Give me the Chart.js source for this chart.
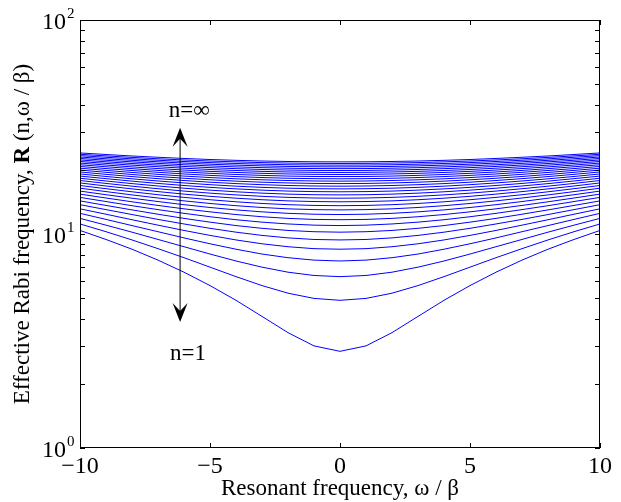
<!DOCTYPE html>
<html>
<head>
<meta charset="utf-8">
<script src="https://cdn.jsdelivr.net/npm/chart.js@4/dist/chart.umd.min.js"></script>
<style>
  html, body { margin: 0; background: #fff; }
  canvas { display: block; }
</style>
</head>
<body>
<canvas id="chart-rabi" width="621" height="502"></canvas>
<script>
// ── DATA ──────────────────────────────────────────────────────
// resonant frequency (omega / beta), same grid for every curve
const OMEGA = [-10, -9, -8, -7, -6, -5, -4, -3, -2, -1, 0, 1, 2, 3, 4, 5, 6, 7, 8, 9, 10];

// effective Rabi frequency, one row per n (n = 1 at the bottom ... n = 30 on top)
const RABI = [
  [10.39, 9.43, 8.49, 7.55, 6.63, 5.74, 4.90, 4.12, 3.46, 3.00, 2.83, 3.00, 3.46, 4.12, 4.90, 5.74, 6.63, 7.55, 8.49, 9.43, 10.39],
  [11.14, 10.25, 9.38, 8.54, 7.75, 7.00, 6.32, 5.74, 5.29, 5.00, 4.90, 5.00, 5.29, 5.74, 6.32, 7.00, 7.75, 8.54, 9.38, 10.25, 11.14],
  [11.83, 11.00, 10.20, 9.43, 8.72, 8.06, 7.48, 7.00, 6.63, 6.40, 6.32, 6.40, 6.63, 7.00, 7.48, 8.06, 8.72, 9.43, 10.20, 11.00, 11.83],
  [12.49, 11.70, 10.95, 10.25, 9.59, 9.00, 8.49, 8.06, 7.75, 7.55, 7.48, 7.55, 7.75, 8.06, 8.49, 9.00, 9.59, 10.25, 10.95, 11.70, 12.49],
  [13.11, 12.37, 11.66, 11.00, 10.39, 9.85, 9.38, 9.00, 8.72, 8.54, 8.49, 8.54, 8.72, 9.00, 9.38, 9.85, 10.39, 11.00, 11.66, 12.37, 13.11],
  [13.71, 13.00, 12.33, 11.70, 11.14, 10.63, 10.20, 9.85, 9.59, 9.43, 9.38, 9.43, 9.59, 9.85, 10.20, 10.63, 11.14, 11.70, 12.33, 13.00, 13.71],
  [14.28, 13.60, 12.96, 12.37, 11.83, 11.36, 10.95, 10.63, 10.39, 10.25, 10.20, 10.25, 10.39, 10.63, 10.95, 11.36, 11.83, 12.37, 12.96, 13.60, 14.28],
  [14.83, 14.18, 13.56, 13.00, 12.49, 12.04, 11.66, 11.36, 11.14, 11.00, 10.95, 11.00, 11.14, 11.36, 11.66, 12.04, 12.49, 13.00, 13.56, 14.18, 14.83],
  [15.36, 14.73, 14.14, 13.60, 13.11, 12.69, 12.33, 12.04, 11.83, 11.70, 11.66, 11.70, 11.83, 12.04, 12.33, 12.69, 13.11, 13.60, 14.14, 14.73, 15.36],
  [15.87, 15.26, 14.70, 14.18, 13.71, 13.30, 12.96, 12.69, 12.49, 12.37, 12.33, 12.37, 12.49, 12.69, 12.96, 13.30, 13.71, 14.18, 14.70, 15.26, 15.87],
  [16.37, 15.78, 15.23, 14.73, 14.28, 13.89, 13.56, 13.30, 13.11, 13.00, 12.96, 13.00, 13.11, 13.30, 13.56, 13.89, 14.28, 14.73, 15.23, 15.78, 16.37],
  [16.85, 16.28, 15.75, 15.26, 14.83, 14.46, 14.14, 13.89, 13.71, 13.60, 13.56, 13.60, 13.71, 13.89, 14.14, 14.46, 14.83, 15.26, 15.75, 16.28, 16.85],
  [17.32, 16.76, 16.25, 15.78, 15.36, 15.00, 14.70, 14.46, 14.28, 14.18, 14.14, 14.18, 14.28, 14.46, 14.70, 15.00, 15.36, 15.78, 16.25, 16.76, 17.32],
  [17.78, 17.23, 16.73, 16.28, 15.87, 15.52, 15.23, 15.00, 14.83, 14.73, 14.70, 14.73, 14.83, 15.00, 15.23, 15.52, 15.87, 16.28, 16.73, 17.23, 17.78],
  [18.22, 17.69, 17.20, 16.76, 16.37, 16.03, 15.75, 15.52, 15.36, 15.26, 15.23, 15.26, 15.36, 15.52, 15.75, 16.03, 16.37, 16.76, 17.20, 17.69, 18.22],
  [18.65, 18.14, 17.66, 17.23, 16.85, 16.52, 16.25, 16.03, 15.87, 15.78, 15.75, 15.78, 15.87, 16.03, 16.25, 16.52, 16.85, 17.23, 17.66, 18.14, 18.65],
  [19.08, 18.57, 18.11, 17.69, 17.32, 17.00, 16.73, 16.52, 16.37, 16.28, 16.25, 16.28, 16.37, 16.52, 16.73, 17.00, 17.32, 17.69, 18.11, 18.57, 19.08],
  [19.49, 19.00, 18.55, 18.14, 17.78, 17.46, 17.20, 17.00, 16.85, 16.76, 16.73, 16.76, 16.85, 17.00, 17.20, 17.46, 17.78, 18.14, 18.55, 19.00, 19.49],
  [19.90, 19.42, 18.97, 18.57, 18.22, 17.92, 17.66, 17.46, 17.32, 17.23, 17.20, 17.23, 17.32, 17.46, 17.66, 17.92, 18.22, 18.57, 18.97, 19.42, 19.90],
  [20.30, 19.82, 19.39, 19.00, 18.65, 18.36, 18.11, 17.92, 17.78, 17.69, 17.66, 17.69, 17.78, 17.92, 18.11, 18.36, 18.65, 19.00, 19.39, 19.82, 20.30],
  [20.69, 20.22, 19.80, 19.42, 19.08, 18.79, 18.55, 18.36, 18.22, 18.14, 18.11, 18.14, 18.22, 18.36, 18.55, 18.79, 19.08, 19.42, 19.80, 20.22, 20.69],
  [21.07, 20.62, 20.20, 19.82, 19.49, 19.21, 18.97, 18.79, 18.65, 18.57, 18.55, 18.57, 18.65, 18.79, 18.97, 19.21, 19.49, 19.82, 20.20, 20.62, 21.07],
  [21.45, 21.00, 20.59, 20.22, 19.90, 19.62, 19.39, 19.21, 19.08, 19.00, 18.97, 19.00, 19.08, 19.21, 19.39, 19.62, 19.90, 20.22, 20.59, 21.00, 21.45],
  [21.82, 21.38, 20.98, 20.62, 20.30, 20.02, 19.80, 19.62, 19.49, 19.42, 19.39, 19.42, 19.49, 19.62, 19.80, 20.02, 20.30, 20.62, 20.98, 21.38, 21.82],
  [22.18, 21.75, 21.35, 21.00, 20.69, 20.42, 20.20, 20.02, 19.90, 19.82, 19.80, 19.82, 19.90, 20.02, 20.20, 20.42, 20.69, 21.00, 21.35, 21.75, 22.18],
  [22.54, 22.11, 21.73, 21.38, 21.07, 20.81, 20.59, 20.42, 20.30, 20.22, 20.20, 20.22, 20.30, 20.42, 20.59, 20.81, 21.07, 21.38, 21.73, 22.11, 22.54],
  [22.89, 22.47, 22.09, 21.75, 21.45, 21.19, 20.98, 20.81, 20.69, 20.62, 20.59, 20.62, 20.69, 20.81, 20.98, 21.19, 21.45, 21.75, 22.09, 22.47, 22.89],
  [23.24, 22.83, 22.45, 22.11, 21.82, 21.56, 21.35, 21.19, 21.07, 21.00, 20.98, 21.00, 21.07, 21.19, 21.35, 21.56, 21.82, 22.11, 22.45, 22.83, 23.24],
  [23.58, 23.17, 22.80, 22.47, 22.18, 21.93, 21.73, 21.56, 21.45, 21.38, 21.35, 21.38, 21.45, 21.56, 21.73, 21.93, 22.18, 22.47, 22.80, 23.17, 23.58],
  [23.92, 23.52, 23.15, 22.83, 22.54, 22.29, 22.09, 21.93, 21.82, 21.75, 21.73, 21.75, 21.82, 21.93, 22.09, 22.29, 22.54, 22.83, 23.15, 23.52, 23.92],
];

// ticks
const X_TICKS = [-10, -5, 0, 5, 10];
const X_TICK_LABELS = ['\u221210', '\u22125', '0', '5', '10'];
const Y_MAJOR = [1, 10, 100];
const Y_EXPONENTS = ['0', '1', '2'];
const Y_MINOR = [2, 3, 4, 5, 6, 7, 8, 9, 20, 30, 40, 50, 60, 70, 80, 90];

// arrow annotation (data coordinates)
const ARROW_X = -6.15;
const ARROW_Y = [3.88, 31.4];
const LABEL_TOP = { x: -5.8, y: 35.2, text: 'n=\u221e' };
const LABEL_BOTTOM = { x: -5.85, y: 2.58, text: 'n=1' };

const AZUL = '#0000ff';
const SERIF = '"Liberation Serif", "Times New Roman", serif';

// ── MATLAB-STYLE AXES ─────────────────────────────────────────
function flecha(ctx, x, y, dir) {
    // dir = -1 points up, +1 points down
    ctx.beginPath();
    ctx.moveTo(x, y);
    ctx.lineTo(x - 7.5, y - dir * 19);
    ctx.lineTo(x, y - dir * 11);
    ctx.lineTo(x + 7.5, y - dir * 19);
    ctx.closePath();
    ctx.fill();
}

const ejesMatlab = {
    id: 'ejesMatlab',
    afterDatasetsDraw(chart) {
        const { ctx, chartArea: a, scales: { x, y } } = chart;
        ctx.save();
        ctx.strokeStyle = '#000';
        ctx.fillStyle = '#000';
        ctx.lineWidth = 1;

        // box
        ctx.strokeRect(a.left + 0.5, a.top + 0.5, a.right - a.left - 1, a.bottom - a.top - 1);

        // inward ticks
        const tick = 5;
        ctx.beginPath();
        X_TICKS.forEach(v => {
            const px = Math.round(x.getPixelForValue(v)) + 0.5;
            ctx.moveTo(px, a.bottom); ctx.lineTo(px, a.bottom - tick);
            ctx.moveTo(px, a.top); ctx.lineTo(px, a.top + tick);
        });
        Y_MAJOR.concat(Y_MINOR).forEach(v => {
            const py = Math.round(y.getPixelForValue(v)) + 0.5;
            ctx.moveTo(a.left, py); ctx.lineTo(a.left + tick, py);
            ctx.moveTo(a.right, py); ctx.lineTo(a.right - tick, py);
        });
        ctx.stroke();

        // x tick labels
        ctx.font = '24px ' + SERIF;
        ctx.textAlign = 'center';
        ctx.textBaseline = 'alphabetic';
        X_TICKS.forEach((v, i) => {
            ctx.fillText(X_TICK_LABELS[i], x.getPixelForValue(v), a.bottom + 25);
        });

        // y tick labels 10^k
        Y_MAJOR.forEach((v, i) => {
            const py = y.getPixelForValue(v);
            ctx.font = '24px ' + SERIF;
            ctx.textAlign = 'right';
            ctx.fillText('10', a.left - 14, py + 8.5);
            ctx.font = '15px ' + SERIF;
            ctx.textAlign = 'left';
            ctx.fillText(Y_EXPONENTS[i], a.left - 13, py - 2);
        });

        // axis titles
        ctx.font = '23px ' + SERIF;
        ctx.textAlign = 'center';
        ctx.fillText('Resonant frequency, \u03c9 / \u03b2', (a.left + a.right) / 2, 495);

        const partes = [
            { t: 'Effective Rabi frequency, ', f: '23px ' + SERIF },
            { t: 'R', f: 'bold 23px ' + SERIF },
            { t: ' (n,\u03c9 / \u03b2)', f: '23px ' + SERIF },
        ];
        let total = 0;
        partes.forEach(p => { ctx.font = p.f; p.w = ctx.measureText(p.t).width; total += p.w; });
        ctx.save();
        ctx.translate(29, (a.top + a.bottom) / 2);
        ctx.rotate(-Math.PI / 2);
        ctx.textAlign = 'left';
        let cx = -total / 2;
        partes.forEach(p => { ctx.font = p.f; ctx.fillText(p.t, cx, 0); cx += p.w; });
        ctx.restore();

        // n arrow
        const ax = x.getPixelForValue(ARROW_X);
        const yBot = y.getPixelForValue(ARROW_Y[0]);
        const yTop = y.getPixelForValue(ARROW_Y[1]);
        ctx.beginPath();
        ctx.moveTo(ax, yBot - 10);
        ctx.lineTo(ax, yTop + 10);
        ctx.stroke();
        flecha(ctx, ax, yTop, -1);
        flecha(ctx, ax, yBot, 1);

        ctx.font = '23px ' + SERIF;
        ctx.textAlign = 'center';
        [LABEL_TOP, LABEL_BOTTOM].forEach(l => {
            ctx.fillText(l.text, x.getPixelForValue(l.x), y.getPixelForValue(l.y));
        });

        ctx.restore();
    },
};

// ── CHART ─────────────────────────────────────────────────────
const ctx = document.getElementById('chart-rabi').getContext('2d');

new Chart(ctx, {
    type: 'line',
    data: {
        datasets: RABI.map(fila => ({
            data: fila.map((v, i) => ({ x: OMEGA[i], y: v })),
            borderColor: AZUL,
            borderWidth: 1,
            pointRadius: 0,
            tension: 0,
            fill: false,
        })),
    },
    options: {
        responsive: false,
        animation: false,
        events: [],
        layout: { padding: { left: 80, top: 20, right: 21, bottom: 54 } },
        plugins: {
            legend: { display: false },
            tooltip: { enabled: false },
        },
        scales: {
            x: { type: 'linear', min: -10, max: 10, display: false },
            y: { type: 'logarithmic', min: 1, max: 100, display: false },
        },
    },
    plugins: [ejesMatlab],
});
</script>
</body>
</html>
